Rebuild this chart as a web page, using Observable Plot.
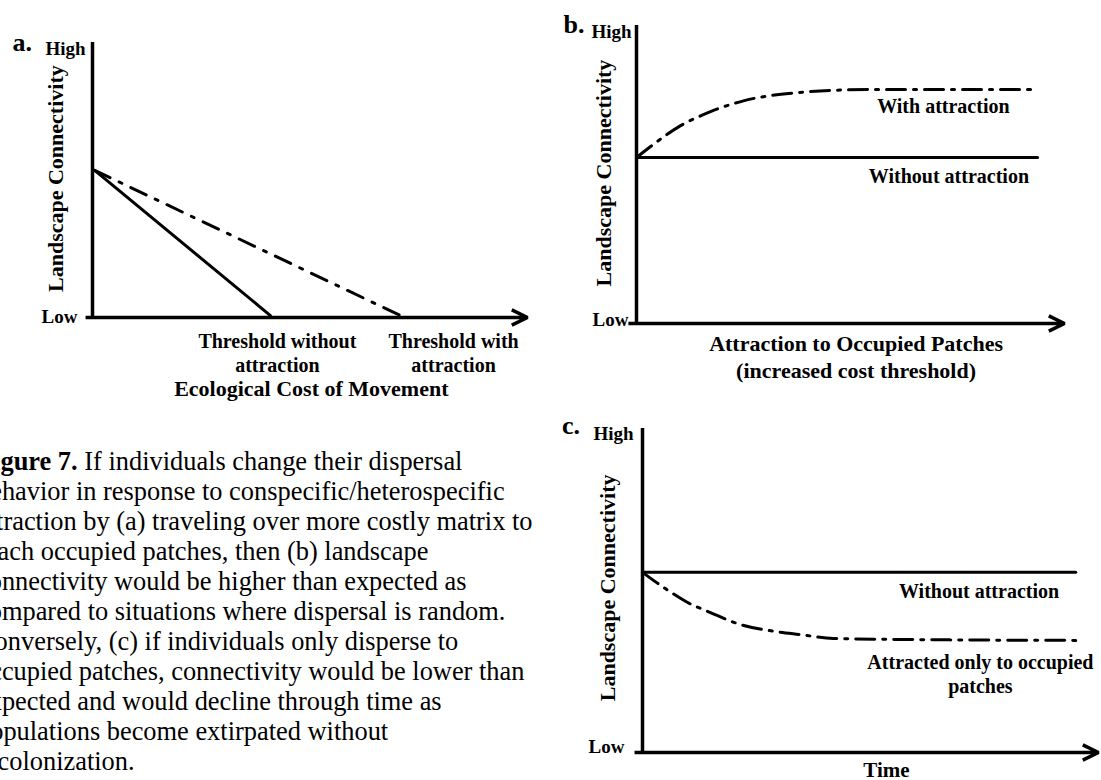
<!DOCTYPE html>
<html>
<head>
<meta charset="utf-8">
<script src="https://cdn.jsdelivr.net/npm/d3@7"></script>
<script src="https://cdn.jsdelivr.net/npm/@observablehq/plot@0.6"></script>
<style>
  html, body { margin: 0; padding: 0; background: #fff; }
  body { width: 1101px; height: 780px; position: relative; overflow: hidden; }
  .panel { position: absolute; }
  .caption {
    position: absolute; left: -23px; top: 446px;
    font-family: "Liberation Serif", "Times New Roman", serif;
    font-size: 26.4px; line-height: 30px; white-space: nowrap; color: #000;
  }
</style>
</head>
<body>
<div id="pa" class="panel" style="left:0;top:0"></div>
<div id="pb" class="panel" style="left:540px;top:0"></div>
<div id="pc" class="panel" style="left:540px;top:400px"></div>
<div id="caption" class="caption"></div>
<script>
// ---- Shared labels (conceptual axes run 0–100, Low to High) ----
const levelLabels = [{y: 0, text: "Low"}, {y: 100, text: "High"}];
const yTitle = "Landscape Connectivity";

// ---- Panel a: connectivity vs. ecological cost of movement ----
const costWithout = [{x: 0.5, y: 53.5}, {x: 40.9, y: 0.7}];
const costWith = [{x: 0.5, y: 53.5}, {x: 70.8, y: 0.7}];
const thresholdLabels = [
  {x: 42.5, text: "Threshold without\nattraction"},
  {x: 83.0, text: "Threshold with\nattraction"}
];
const costTitle = [{x: 50.3, text: "Ecological Cost of Movement"}];

// ---- Panel b: connectivity vs. attraction to occupied patches ----
const attractionWithout = [{x: 0, y: 55.7}, {x: 93.7, y: 55.7}];
const attractionWith = [
  {x: 0, y: 55.7}, {x: 3.3, y: 59.4}, {x: 6.8, y: 63.1}, {x: 10.3, y: 66.4},
  {x: 13.6, y: 68.8}, {x: 17.3, y: 71.1}, {x: 22.0, y: 73.5}, {x: 25.2, y: 74.8},
  {x: 31.3, y: 76.5}, {x: 37.9, y: 77.5}, {x: 45.3, y: 78.2}, {x: 54.7, y: 78.5},
  {x: 93.7, y: 78.5}
];
const attractionLabels = [
  {x: 71.7, y: 70.8, text: "With attraction"},
  {x: 73.0, y: 47.0, text: "Without attraction"}
];
const attractionTitle = [{x: 51.3, text: "Attraction to Occupied Patches\n(increased cost threshold)"}];

// ---- Panel c: connectivity through time ----
const timeWithout = [{x: 0, y: 55.6}, {x: 95.0, y: 55.6}];
const timeOccupiedOnly = [
  {x: 0, y: 55.6}, {x: 5.0, y: 50.6}, {x: 9.9, y: 46.3}, {x: 14.9, y: 43.2},
  {x: 20.8, y: 39.8}, {x: 29.4, y: 37.3}, {x: 34.6, y: 36.4}, {x: 41.9, y: 35.2},
  {x: 56.1, y: 34.9}, {x: 95.0, y: 34.6}
];
const timeLabels = [
  {x: 73.8, y: 47.8, text: "Without attraction"},
  {x: 74.1, y: 18.5, text: "Attracted only to occupied\npatches"}
];
const timeTitle = [{x: 53.5, text: "Time"}];

// ---- Caption ----
const captionLines = [
  ["Figure 7.", " If individuals change their dispersal"],
  ["", "behavior in response to conspecific/heterospecific"],
  ["", "attraction by (a) traveling over more costly matrix to"],
  ["", "reach occupied patches, then (b) landscape"],
  ["", "connectivity would be higher than expected as"],
  ["", "compared to situations where dispersal is random."],
  ["", "Conversely, (c) if individuals only disperse to"],
  ["", "occupied patches, connectivity would be lower than"],
  ["", "expected and would decline through time as"],
  ["", "populations become extirpated without"],
  ["", "recolonization."]
];

const FONT = "'Liberation Serif', 'Times New Roman', serif";
const INK = "#000";

// Axes, High/Low labels, rotated y title and panel letter shared by every panel
function baseMarks(cfg) {
  return [
    Plot.ruleX([0], {y1: 0, y2: 100, stroke: INK, strokeWidth: 3.5}),
    Plot.arrow([{x1: cfg.axisStart, x2: 100, y: 0}], {
      x1: "x1", x2: "x2", y1: "y", y2: "y",
      stroke: INK, strokeWidth: 3.5, headLength: 7.5, headAngle: 52, strokeLinecap: "butt"
    }),
    Plot.text([{y: cfg.titleY, text: yTitle}], {
      x: () => 0, y: "y", text: "text", rotate: -90, dx: cfg.titleDx,
      fill: INK, fontSize: 22, fontWeight: "bold"
    }),
    Plot.text([{y: 100, text: cfg.letter}], {
      x: () => 0, y: "y", text: "text", textAnchor: "start", lineAnchor: "bottom",
      dx: cfg.letterDx, dy: cfg.letterDy, fill: INK, fontSize: 26, fontWeight: "bold"
    }),
    Plot.text([levelLabels[0]], {
      x: () => 0, y: "y", text: "text", textAnchor: "end", lineAnchor: "bottom",
      dx: cfg.lowDx, dy: cfg.lowDy, fill: INK, fontSize: 19, fontWeight: "bold"
    }),
    Plot.text([levelLabels[1]], {
      x: () => 0, y: "y", text: "text", textAnchor: "end", lineAnchor: "bottom",
      dx: cfg.highDx, dy: cfg.highDy, fill: INK, fontSize: 19, fontWeight: "bold"
    })
  ];
}

function panel(el, size, cfg, marks) {
  const chart = Plot.plot({
    width: size.width, height: size.height,
    marginLeft: size.ml, marginRight: size.mr, marginTop: size.mt, marginBottom: size.mb,
    x: {domain: [0, 100], axis: null},
    y: {domain: [0, 100], axis: null},
    style: {fontFamily: FONT, background: "transparent", overflow: "visible", color: INK},
    marks: [...baseMarks(cfg), ...marks]
  });
  document.getElementById(el).appendChild(chart);
}

const DASH_A = "17,10,3,10";
const DASH_BC = "19,8,3,8";

// Panel a
panel("pa", {width: 540, height: 410, ml: 92, mr: 13, mt: 42, mb: 93},
  {axisStart: -1.6, titleY: 50.5, titleDx: -37, letter: "a.", letterDx: -80, letterDy: 8,
   lowDx: -15, lowDy: 5, highDx: -7, highDy: 12},
  [
    Plot.line(costWithout, {x: "x", y: "y", stroke: INK, strokeWidth: 3}),
    Plot.line(costWith, {x: "x", y: "y", stroke: INK, strokeWidth: 3, strokeDasharray: DASH_A}),
    Plot.text(thresholdLabels, {
      x: "x", y: () => 0, text: "text", lineAnchor: "bottom", lineHeight: 1.2, dy: 54,
      fill: INK, fontSize: 20, fontWeight: "bold"
    }),
    Plot.text(costTitle, {
      x: "x", y: () => 0, text: "text", lineAnchor: "bottom", dy: 78,
      fill: INK, fontSize: 22, fontWeight: "bold"
    })
  ]);

// Panel b
panel("pb", {width: 561, height: 400, ml: 96, mr: 37, mt: 25, mb: 77},
  {axisStart: -1.9, titleY: 50.5, titleDx: -33, letter: "b.", letterDx: -73, letterDy: 7,
   lowDx: -8, lowDy: 2, highDx: -5, highDy: 12},
  [
    Plot.line(attractionWithout, {x: "x", y: "y", stroke: INK, strokeWidth: 3}),
    Plot.line(attractionWith, {x: "x", y: "y", curve: "monotone-x", stroke: INK, strokeWidth: 3, strokeDasharray: DASH_BC}),
    Plot.text(attractionLabels, {
      x: "x", y: "y", text: "text", lineAnchor: "bottom",
      fill: INK, fontSize: 20, fontWeight: "bold"
    }),
    Plot.text(attractionTitle, {
      x: "x", y: () => 0, text: "text", lineAnchor: "bottom", lineHeight: 1.22, dy: 54,
      fill: INK, fontSize: 22, fontWeight: "bold"
    })
  ]);

// Panel c
panel("pc", {width: 561, height: 380, ml: 102, mr: 3, mt: 28, mb: 28},
  {axisStart: -1.75, titleY: 50.8, titleDx: -35, letter: "c.", letterDx: -80.5, letterDy: 5,
   lowDx: -18, lowDy: 0, highDx: -9, highDy: 11},
  [
    Plot.line(timeWithout, {x: "x", y: "y", stroke: INK, strokeWidth: 3}),
    Plot.line(timeOccupiedOnly, {x: "x", y: "y", curve: "monotone-x", stroke: INK, strokeWidth: 3, strokeDasharray: DASH_BC}),
    Plot.text(timeLabels, {
      x: "x", y: "y", text: "text", lineAnchor: "bottom", lineHeight: 1.2,
      fill: INK, fontSize: 20, fontWeight: "bold"
    }),
    Plot.text(timeTitle, {
      x: "x", y: () => 0, text: "text", lineAnchor: "bottom", dy: 24,
      fill: INK, fontSize: 21, fontWeight: "bold"
    })
  ]);

// Caption block
const cap = document.getElementById("caption");
captionLines.forEach(([boldPart, rest], i) => {
  if (i) cap.appendChild(document.createElement("br"));
  if (boldPart) {
    const b = document.createElement("b");
    b.textContent = boldPart;
    cap.appendChild(b);
  }
  cap.appendChild(document.createTextNode(rest));
});
</script>
</body>
</html>
